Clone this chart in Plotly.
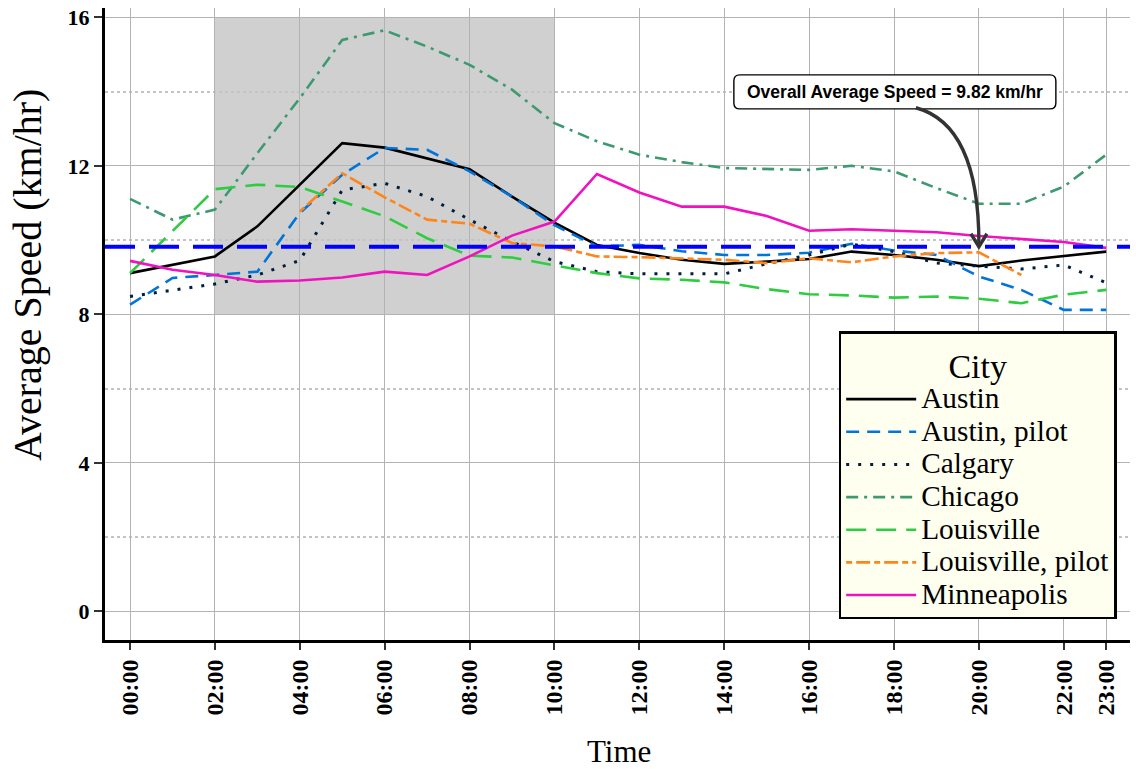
import plotly.graph_objects as go

# Hour of day (x) and the tick labels shown on the time axis
hours = list(range(24))
tick_hours = [0, 2, 4, 6, 8, 10, 12, 14, 16, 18, 20, 22, 23]
tick_labels = ["00:00", "02:00", "04:00", "06:00", "08:00", "10:00", "12:00",
               "14:00", "16:00", "18:00", "20:00", "22:00", "23:00"]

# Average speed by hour (km/hr) for each city
austin = [9.11, 9.33, 9.56, 10.37, 11.49, 12.61, 12.49, 12.21, 11.91, 11.17, 10.47, 9.87,
          9.65, 9.47, 9.36, 9.42, 9.49, 9.69, 9.60, 9.47, 9.30, 9.45, 9.58, 9.69]
austin_pilot = [8.26, 8.98, 9.06, 9.15, 10.73, 11.76, 12.48, 12.43, 11.85, 11.17, 10.40, 9.83,
                9.87, 9.70, 9.60, 9.60, 9.66, 9.90, 9.72, 9.60, 9.02, 8.66, 8.12, 8.12]
calgary = [8.48, 8.64, 8.82, 9.06, 9.45, 11.35, 11.53, 11.17, 10.55, 9.96, 9.42, 9.15,
           9.09, 9.09, 9.09, 9.36, 9.60, 9.89, 9.69, 9.38, 9.30, 9.22, 9.33, 8.85]
chicago = [11.11, 10.55, 10.82, 12.34, 13.82, 15.39, 15.65, 15.21, 14.72, 14.05, 13.15, 12.66,
           12.30, 12.10, 11.94, 11.91, 11.89, 12.00, 11.85, 11.40, 10.98, 10.98, 11.44, 12.30]
louisville = [9.11, 10.24, 11.37, 11.49, 11.43, 11.04, 10.64, 10.05, 9.58, 9.53, 9.33, 9.11,
              8.97, 8.93, 8.86, 8.68, 8.54, 8.51, 8.45, 8.48, 8.42, 8.30, 8.53, 8.66]
louisville_pilot = [None, None, None, None, 10.77, 11.80, 11.15, 10.55, 10.44, 9.92, 9.83, 9.56,
                    9.54, 9.51, 9.47, 9.38, 9.51, 9.40, 9.56, 9.65, 9.67, 9.06, None, None]
minneapolis = [9.44, 9.20, 9.06, 8.88, 8.91, 8.99, 9.15, 9.06, 9.56, 10.12, 10.50, 11.78,
               11.28, 10.90, 10.90, 10.65, 10.25, 10.29, 10.25, 10.21, 10.11, 10.03, 9.95, 9.79]

AVG_SPEED = 9.82

# Morning window highlighted on the chart
PEAK_START, PEAK_END = 2, 10
PEAK_LOW, PEAK_HIGH = 8, 16

SERIF = "Liberation Serif"

series = [
    ("Austin", austin, "#000000", "solid", 2.6),
    ("Austin, pilot", austin_pilot, "#0074D9", "13px,8px", 2.6),
    ("Calgary", calgary, "#001f3f", "3px,9px", 3.0),
    ("Chicago", chicago, "#3D9970", "12px,6px,3px,6px", 2.6),
    ("Louisville", louisville, "#2ECC40", "20px,10px", 2.6),
    ("Louisville, pilot", louisville_pilot, "#FF851B", "6px,4px,14px,4px", 2.6),
    ("Minneapolis", minneapolis, "#F012BE", "solid", 2.6),
]

fig = go.Figure()
for name, values, color, dash, width in series:
    fig.add_trace(go.Scatter(
        x=hours, y=values, mode="lines",
        # larger legend label text on a tighter row spacing
        name=f'<span style="font-size:29.3px">{name}</span>',
        line=dict(color=color, width=width, dash=dash),
        connectgaps=False,
    ))

# Shaded morning window (under the grid)
fig.add_shape(type="rect", xref="x", yref="y",
              x0=PEAK_START, x1=PEAK_END, y0=PEAK_LOW, y1=PEAK_HIGH,
              fillcolor="#d0d0d0", line=dict(width=0), layer="below")

# Overall average reference line
fig.add_shape(type="line", xref="paper", yref="y", x0=0, x1=1,
              y0=AVG_SPEED, y1=AVG_SPEED,
              line=dict(color="#0000FF", width=4, dash="30px,14px"), layer="above")

# Label box with rounded corners
LABEL_X, LABEL_Y = 18.02, 13.99
fig.add_shape(type="path", xref="x", yref="y",
              xsizemode="pixel", ysizemode="pixel",
              xanchor=LABEL_X, yanchor=LABEL_Y,
              path=("M -155,-17 L 155,-17 Q 161,-17 161,-11 L 161,11 Q 161,17 155,17 "
                    "L -155,17 Q -161,17 -161,11 L -161,-11 Q -161,-17 -155,-17 Z"),
              fillcolor="white", line=dict(color="black", width=1.4), layer="above")
fig.add_annotation(x=LABEL_X, y=LABEL_Y, xref="x", yref="y",
                   text=f"<b>Overall Average Speed = {AVG_SPEED:.2f} km/hr</b>",
                   showarrow=False, xanchor="center", yanchor="middle",
                   font=dict(family="Liberation Sans", size=17.5, color="black"))

# Curved arrow from the label down to the average line at 20:00
ARROW_HOUR = 20
fig.add_shape(type="path", xref="x", yref="y",
              xsizemode="pixel", ysizemode="pixel",
              xanchor=ARROW_HOUR, yanchor=AVG_SPEED,
              path="M -63,139 Q 0,122 0,3",
              line=dict(color="#333333", width=3.4), layer="above")
fig.add_shape(type="path", xref="x", yref="y",
              xsizemode="pixel", ysizemode="pixel",
              xanchor=ARROW_HOUR, yanchor=AVG_SPEED,
              path="M -8,13 L 0,0 L 8,13",
              line=dict(color="#333333", width=3.4), layer="above")

# Axis titles
fig.add_annotation(text="Average Speed (km/hr)", xref="paper", yref="paper",
                   x=-0.0761, y=0.5775, textangle=-90, showarrow=False,
                   xanchor="center", yanchor="middle",
                   font=dict(family=SERIF, size=40, color="black"))
fig.add_annotation(text="Time", xref="paper", yref="paper",
                   x=0.5015, y=-0.177, showarrow=False,
                   xanchor="center", yanchor="middle",
                   font=dict(family=SERIF, size=31, color="black"))

fig.update_layout(
    width=1136, height=769,
    margin=dict(l=105, r=6, t=8, b=129),
    paper_bgcolor="white", plot_bgcolor="white",
    font=dict(family=SERIF, color="black"),
    showlegend=True,
    legend=dict(
        x=0.987, y=0.033, xanchor="right", yanchor="bottom",
        bgcolor="#fffff0", bordercolor="black", borderwidth=2.5,
        font=dict(family=SERIF, size=22.8, color="black"),
        title=dict(text="City", side="top center",
                   font=dict(family=SERIF, size=34, color="black")),
        itemwidth=70, tracegroupgap=0,
    ),
)

fig.update_xaxes(
    range=[-0.59, 23.56], tickmode="array", tickvals=tick_hours, ticktext=tick_labels,
    tickangle=-90, ticks="outside", ticklen=7, tickwidth=2, tickcolor="#333333",
    tickfont=dict(family=SERIF, size=24, color="black", weight="bold"),
    showgrid=True, gridcolor="#b3b3b3", gridwidth=1, zeroline=False,
    showline=True, linecolor="black", linewidth=3,
)
fig.update_yaxes(
    range=[-0.77, 16.25], tickmode="array", tickvals=[0, 4, 8, 12, 16],
    ticks="outside", ticklen=8, tickwidth=2, tickcolor="#333333",
    tickfont=dict(family=SERIF, size=22, color="black", weight="bold"),
    showgrid=True, gridcolor="#b3b3b3", gridwidth=1, zeroline=False,
    minor=dict(tickmode="array", tickvals=[2, 6, 10, 14], showgrid=True,
               gridcolor="#c4c4c4", griddash="dot", gridwidth=1.5, ticks=""),
    showline=True, linecolor="black", linewidth=3,
)

fig.write_html("out.html")
